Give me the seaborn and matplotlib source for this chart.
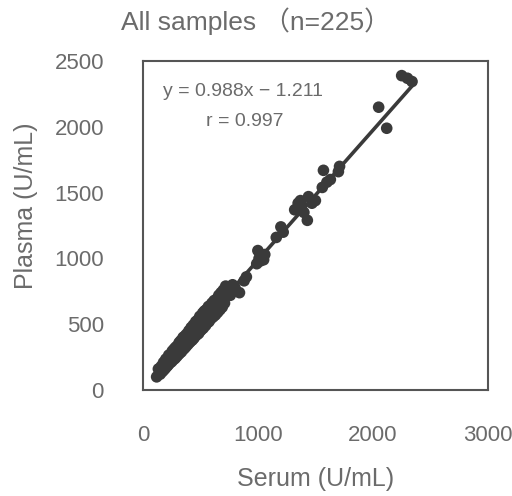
import numpy as np
import pandas as pd
import matplotlib
matplotlib.use("Agg")
import matplotlib.pyplot as plt
import seaborn as sns

# values (U/mL)
serum = [120, 135, 150, 160, 170, 180, 185, 195, 200, 210, 220, 225, 235, 240, 250,
         255, 265, 270, 280, 285, 295, 300, 310, 315, 320, 330, 335, 345, 350, 360,
         365, 375, 380, 390, 400, 405, 415, 420, 430, 440, 445, 455, 460, 470, 480,
         485, 495, 500, 510, 520, 525, 535, 545, 550, 560, 570, 575, 585, 590, 600,
         610, 620, 630, 640, 650, 660, 670, 680, 690, 700, 710, 720, 740, 760, 780,
         800, 840, 880, 900,
         990, 1000, 1010, 1020, 1040, 1050, 1060, 1160, 1200, 1220,
         1320, 1350, 1370, 1380, 1400, 1430, 1440, 1470, 1500,
         1560, 1570, 1600, 1630, 1700, 1710,
         2050, 2120, 2250, 2300, 2340]
plasma = [100, 160, 120, 180, 140, 210, 155, 165, 235, 180, 190, 265, 205, 270, 215,
          295, 230, 310, 240, 325, 255, 335, 270, 360, 280, 375, 290, 305, 400, 315,
          410, 330, 425, 345, 450, 360, 370, 475, 380, 495, 395, 410, 520, 420, 535,
          430, 560, 450, 460, 585, 470, 600, 490, 610, 510, 635, 520, 640, 540, 660,
          555, 680, 570, 690, 590, 720, 610, 740, 630, 760, 660, 790, 760, 720, 800,
          780, 740, 830, 860,
          960, 1060, 1000, 980, 1010, 990, 1030, 1160, 1240, 1200,
          1370, 1420, 1440, 1400, 1350, 1290, 1470, 1420, 1440,
          1540, 1670, 1580, 1600, 1660, 1700,
          2150, 1990, 2390, 2370, 2345]

slope = 0.988
intercept = -1.211
title = "All samples （n=225）"
eq_text = "y = 0.988x − 1.211"
r_text = "r = 0.997"
x_ticks = [0, 1000, 2000, 3000]
y_ticks = [0, 500, 1000, 1500, 2000, 2500]

df = pd.DataFrame({"Serum": serum, "Plasma": plasma})
line_x = [min(serum), max(serum)]
line_df = pd.DataFrame({"x": line_x, "y": [slope * v + intercept for v in line_x]})

sns.set_theme(style="white")
plt.rcParams["font.family"] = ["Liberation Sans", "Noto Sans CJK JP"]
grey = "#6b6b6b"
dark = "#3a3a3a"

fig = plt.figure(figsize=(5.12, 4.96), dpi=100)
ax = fig.add_axes([0.279, 0.2137, 0.674, 0.663])

sns.lineplot(data=line_df, x="x", y="y", ax=ax, color=dark, linewidth=2.6, zorder=2)
sns.scatterplot(data=df, x="Serum", y="Plasma", ax=ax, color=dark, s=70,
                edgecolor="none", zorder=3)

ax.set_xlim(0, 3000)
ax.set_ylim(0, 2500)
ax.set_xticks(x_ticks)
ax.set_yticks(y_ticks)
ax.tick_params(direction="in", length=4, width=0.8, color="#888888",
               labelcolor=grey, labelsize=16)
ax.tick_params(axis="x", pad=25)
ax.tick_params(axis="y", pad=28)
for s in ax.spines.values():
    s.set_color("#555555")
    s.set_linewidth(1.5)

ax.set_xlabel("Serum (U/mL)", fontsize=18, color=grey)
ax.set_ylabel("Plasma (U/mL)", fontsize=18, color=grey)
ax.xaxis.set_label_coords(0.5, -0.235)
ax.yaxis.set_label_coords(-0.305, 0.56)

fig.text(0.5, 0.958, title, ha="center", va="center", fontsize=19, color=grey)
ax.text(0.29, 0.907, eq_text, transform=ax.transAxes, ha="center", va="center",
        fontsize=14, color=grey)
ax.text(0.296, 0.816, r_text, transform=ax.transAxes, ha="center", va="center",
        fontsize=14, color=grey)

fig.savefig("out.png", dpi=100)
